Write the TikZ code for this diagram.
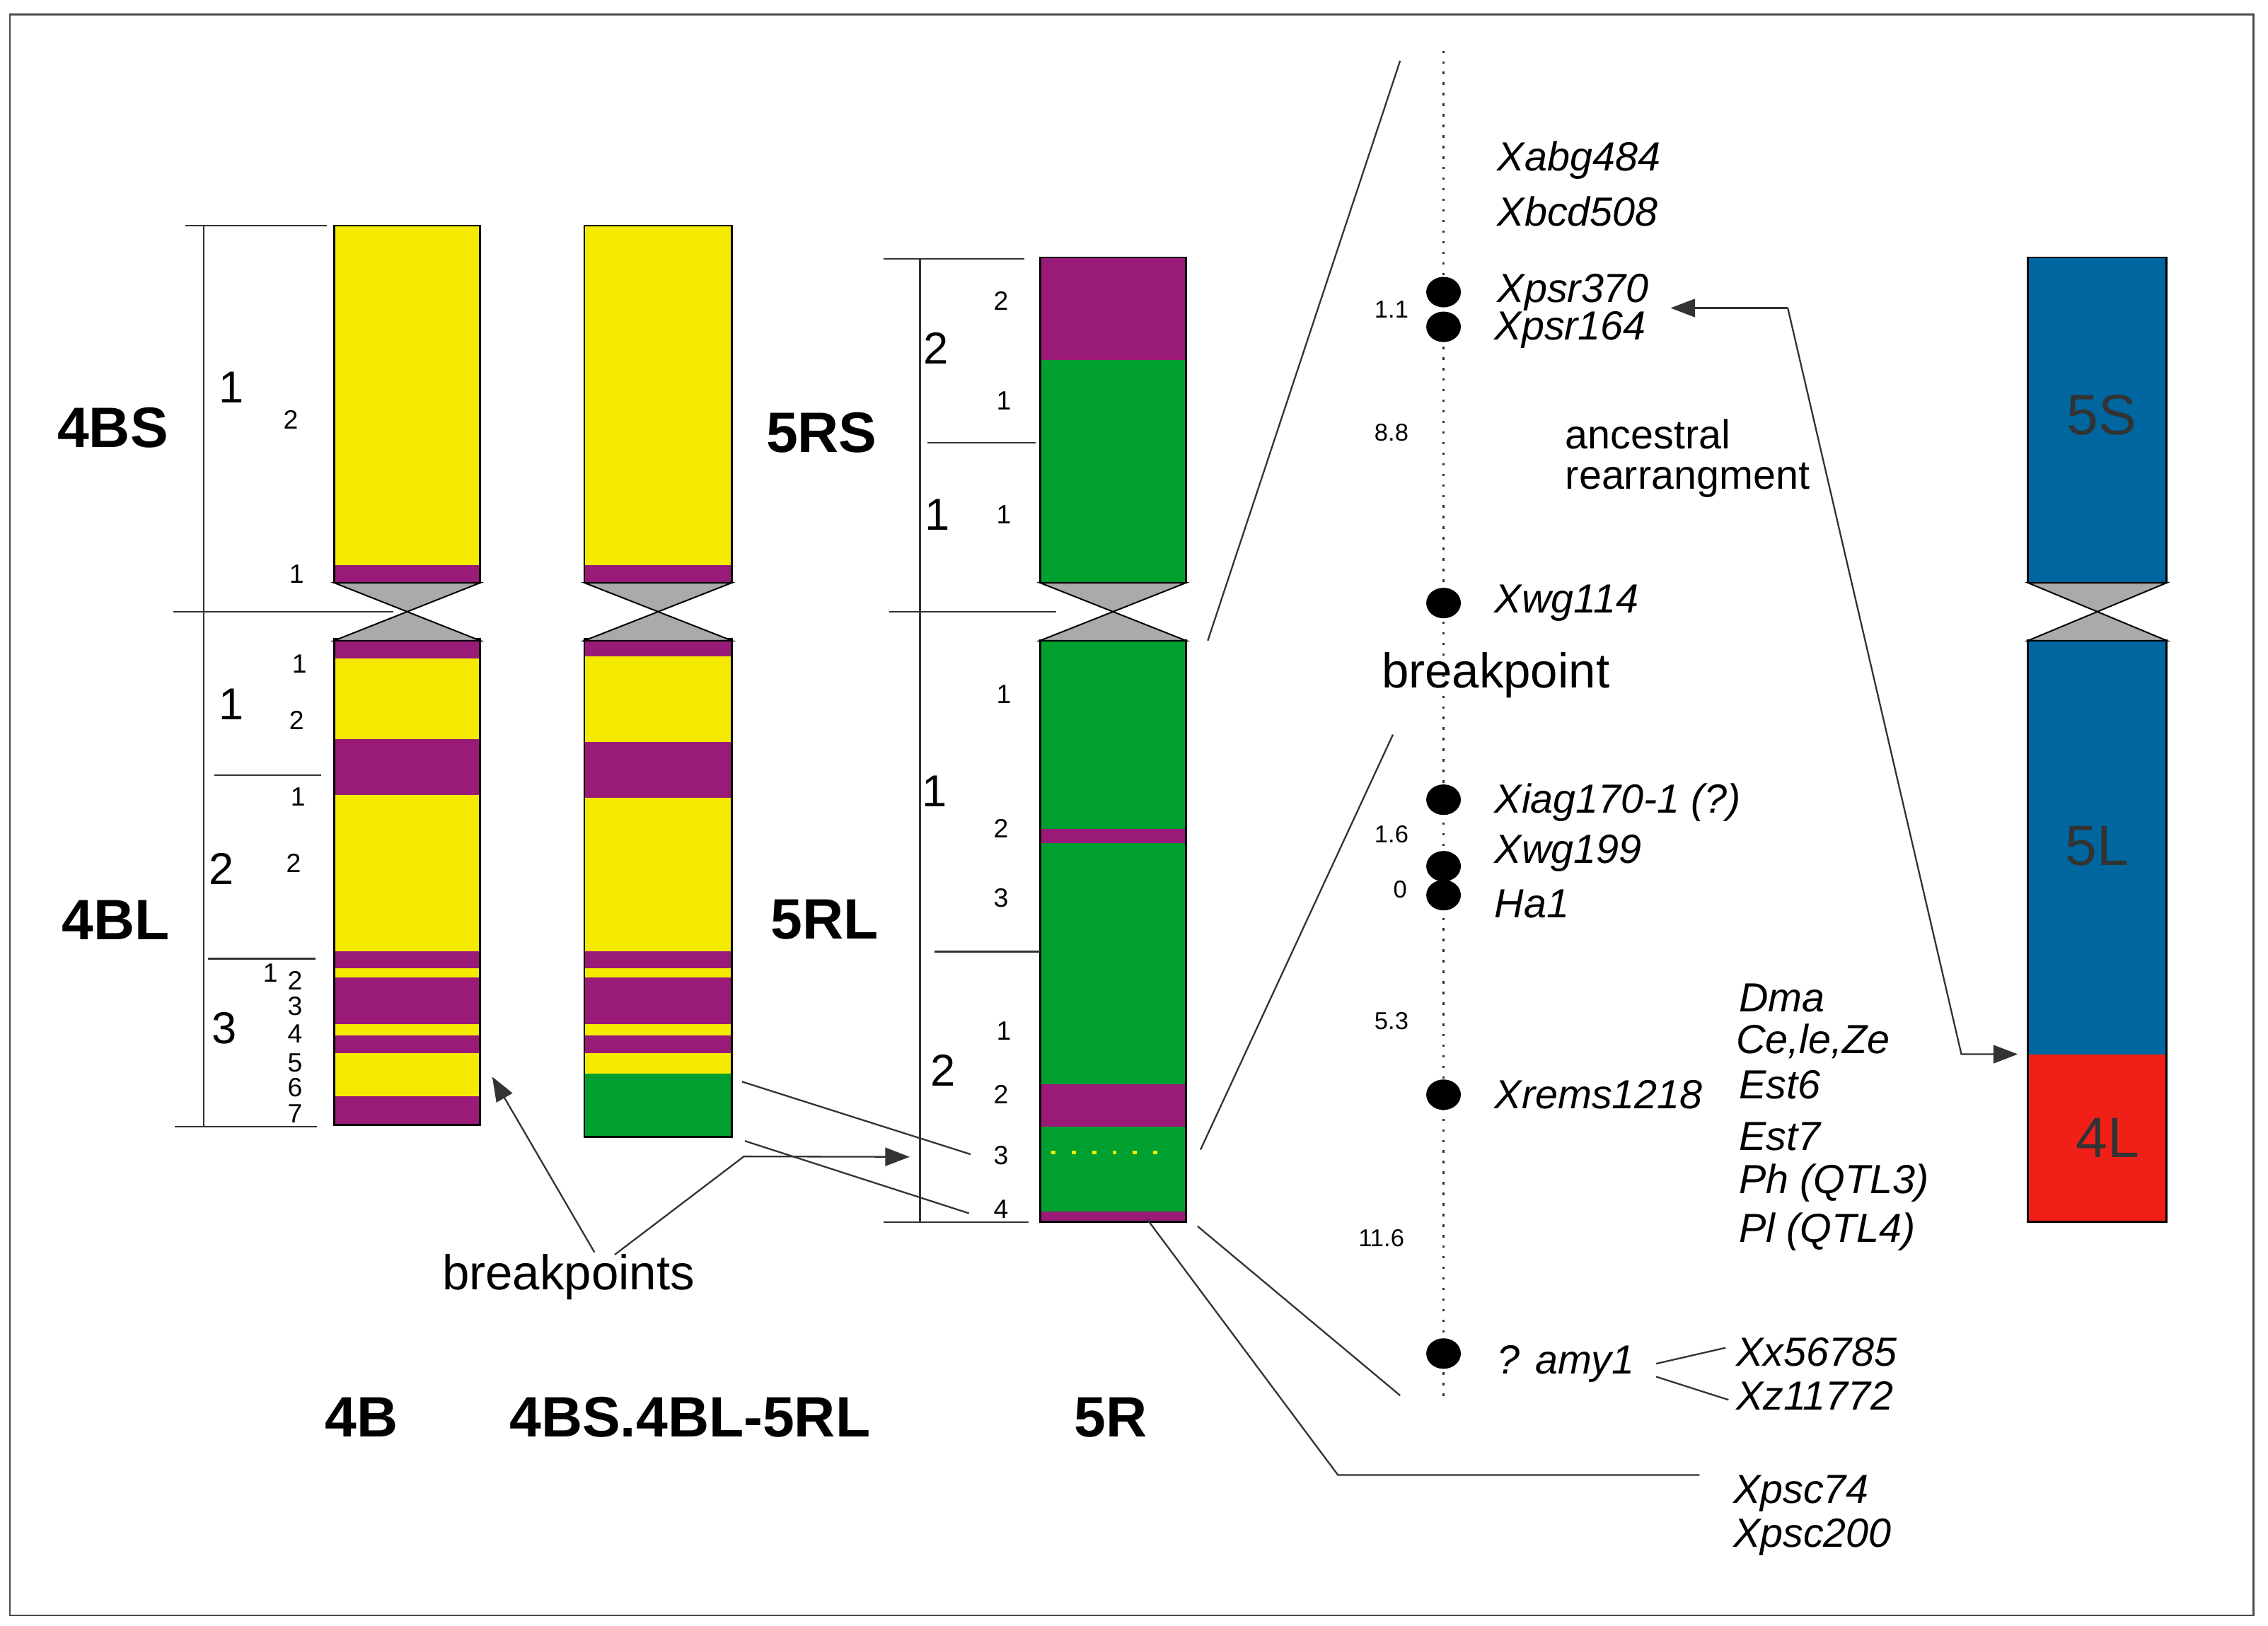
\documentclass[tikz,border=0pt]{standalone}
\usepackage{fontspec}
\setmainfont{Liberation Sans}
\usetikzlibrary{arrows.meta,shapes.geometric}
\definecolor{cy}{HTML}{F5EB00}
\definecolor{cp}{HTML}{991A77}
\definecolor{cg}{HTML}{00A030}
\definecolor{cb}{HTML}{0066A0}
\definecolor{cr}{HTML}{F02018}
\definecolor{cgr}{HTML}{AAAAAA}
\newcommand{\cband}[5]{\fill[#5] (#1,#3) rectangle (#2,#4);}
\newcommand{\cencen}[2]{\filldraw[fill=cgr,draw=black,line width=0.7pt] (#1,403)--(#2,403)--({(#1+#2)/2},423)--(#2,443)--(#1,443)--({(#1+#2)/2},423)--cycle;}
\tikzset{
 big/.style={font=\fontsize{28}{30}\selectfont\bfseries},
 bn/.style={font=\fontsize{22}{24}\selectfont},
 sn/.style={font=\fontsize{13}{14}\selectfont},
 mk/.style={font=\fontsize{20}{22}\selectfont\itshape, anchor=west, inner sep=0pt},
 lb/.style={font=\fontsize{20}{22}\selectfont},
 dist/.style={font=\fontsize{12}{13}\selectfont},
 ln/.style={line width=0.8pt, draw=black!80},
 dot/.style={ellipse, fill=black, minimum width=17, minimum height=15, inner sep=0pt},
 tip/.style={-{Triangle[length=12pt,width=9pt]}}
}
\begin{document}
\begin{tikzpicture}[x=0.025cm,y=-0.025cm]
\useasboundingbox (0,0) rectangle (1568,1124);
\draw[line width=0.8pt, black!70] (7,10) rectangle (1558,1117);
% ---- 4B
\cband{231}{332}{156}{391}{cy}\cband{231}{332}{391}{403}{cp}
\cband{231}{332}{442}{455.5}{cp}\cband{231}{332}{455.5}{511}{cy}\cband{231}{332}{511}{549.6}{cp}
\cband{231}{332}{549.6}{657.6}{cy}\cband{231}{332}{657.6}{669.6}{cp}\cband{231}{332}{669.6}{675.8}{cy}
\cband{231}{332}{675.8}{708.3}{cp}\cband{231}{332}{708.3}{715.8}{cy}\cband{231}{332}{715.8}{728}{cp}
\cband{231}{332}{728}{758.2}{cy}\cband{231}{332}{758.2}{778}{cp}
\draw[line width=1pt] (231,156) rectangle (332,403) (231,442) rectangle (332,778);
\cencen{231}{332}
% ---- 4BS.4BL-5RL
\cband{404}{506}{156}{391}{cy}\cband{404}{506}{391}{403}{cp}
\cband{404}{506}{442}{454}{cp}\cband{404}{506}{454}{513}{cy}\cband{404}{506}{513}{551.6}{cp}
\cband{404}{506}{551.6}{657.6}{cy}\cband{404}{506}{657.6}{669.6}{cp}\cband{404}{506}{669.6}{675.8}{cy}
\cband{404}{506}{675.8}{708.3}{cp}\cband{404}{506}{708.3}{715.8}{cy}\cband{404}{506}{715.8}{728}{cp}
\cband{404}{506}{728}{742.5}{cy}\cband{404}{506}{742.5}{786}{cg}
\draw[line width=1pt] (404,156) rectangle (506,403) (404,442) rectangle (506,786);
\cencen{404}{506}
% ---- 5R
\cband{719}{820}{178}{249}{cp}\cband{719}{820}{249}{403}{cg}
\cband{719}{820}{443}{573}{cg}\cband{719}{820}{573}{583}{cp}\cband{719}{820}{583}{750}{cg}
\cband{719}{820}{750}{779}{cp}\cband{719}{820}{779}{838}{cg}\cband{719}{820}{838}{845}{cp}
\draw[line width=1pt] (719,178) rectangle (820,403) (719,443) rectangle (820,845);
\cencen{719}{820}
\draw[cy, line width=2pt, dash pattern=on 2pt off 8pt] (727,797) -- (810,797);
% ---- 5S/5L
\cband{1402}{1498}{178}{403}{cb}\cband{1402}{1498}{443}{729}{cb}\cband{1402}{1498}{729}{845}{cr}
\draw[line width=1pt] (1402,178) rectangle (1498,403) (1402,443) rectangle (1498,845);
\cencen{1402}{1498}
\node[font=\fontsize{28}{30}\selectfont, text=black!80] (s5) at (1453,287) {5S};
\node[font=\fontsize{28}{30}\selectfont, text=black!80] (l5) at (1450,585) {5L};
\node[font=\fontsize{28}{30}\selectfont, text=black!80] (l4) at (1457,787) {4L};
% ---- scales
\draw[ln] (141,156)--(141,779) (128,156)--(226,156) (120,423)--(272,423) (148,536)--(222,536) (144,663)--(218,663) (121,779)--(219,779);
\draw[ln] (636,179)--(636,845) (611,179)--(708,179) (641,306)--(716,306) (615,423)--(730,423) (646,658)--(719,658) (611,845)--(711,845);
% labels 4B
\node[big] (t4bs) at (78,296) {4BS};
\node[big] (t4bl) at (80,636) {4BL};
\node[bn] at (160,268) {1}; \node[sn] at (201,290) {2}; \node[sn] at (205,397) {1};
\node[sn] at (207,459) {1}; \node[bn] at (160,487) {1}; \node[sn] at (205,498) {2};
\node[sn] at (206,551) {1}; \node[bn] at (153,601) {2}; \node[sn] at (203,597) {2};
\node[bn] at (155,711) {3}; \node[sn] at (187,673) {1}; \node[sn] at (204,678) {2};
\node[sn] at (204,696) {3}; \node[sn] at (204,715) {4}; \node[sn] at (204,735) {5};
\node[sn] at (204,752) {6}; \node[sn] at (204,770) {7};
% labels 5R
\node[big] (t5rs) at (568,299) {5RS};
\node[big] (t5rl) at (570,636) {5RL};
\node[sn] at (692,208) {2}; \node[bn] at (647,241) {2}; \node[sn] at (694,277) {1};
\node[bn] at (648,356) {1}; \node[sn] at (694,356) {1};
\node[sn] at (694,480) {1}; \node[bn] at (646,547) {1}; \node[sn] at (692,573) {2};
\node[sn] at (692,621) {3}; \node[sn] at (694,713) {1}; \node[bn] at (652,740) {2};
\node[sn] at (692,757) {2}; \node[sn] at (692,799) {3}; \node[sn] at (692,836) {4};
% bottom titles
\node[big] at (250,980) {4B};
\node[big] at (477,980) {4BS.4BL-5RL};
\node[big] at (768,980) {5R};
% breakpoints connectors
\node[font=\fontsize{24}{26}\selectfont] (bps) at (393,883) {breakpoints};
\coordinate (b1) at (411,866); \coordinate (b2) at (425,867.6);
\coordinate (a1) at (340.3,744.6); \coordinate (k1) at (514.3,799.7); \coordinate (a2) at (628.9,800);
\draw[ln, tip] (b1) -- (a1);
\draw[ln, tip] (b2) -- (k1) -- (a2);
\coordinate (p1) at (513,748); \coordinate (p2) at (671,798.2);
\coordinate (q1) at (515,789); \coordinate (q2) at (669.9,839);
\draw[ln] (p1)--(p2) (q1)--(q2);
% zoom lines
\coordinate (z1) at (968,42); \coordinate (z2) at (835,443);
\coordinate (z3) at (963,508); \coordinate (z4) at (830,795);
\coordinate (z5) at (828,848); \coordinate (z6) at (968,965);
\coordinate (z7) at (793,843); \coordinate (z8) at (925,1020); \coordinate (z9) at (1175,1020);
\draw[ln] (z1)--(z2) (z3)--(z4) (z5)--(z6) (z7)--(z8)--(z9);
% map axis
\draw[black!80, line width=1.2pt, dash pattern=on 1.2pt off 4pt] (998,35)--(998,968);
\foreach \n/\yy in {d1/202,d2/226,d3/417,d4/553,d5/599,d6/619,d7/757,d8/936}
  \node[dot] (\n) at (998,\yy) {};
\node[mk] at (1035,111) {Xabg484};
\node[mk] at (1035,146) {Xbcd508};
\node[mk] (m370) at (1035,202) {Xpsr370};
\node[mk] (m164) at (1033,228) {Xpsr164};
\node[mk] at (1033,417) {Xwg114};
\node[mk] at (1033,555) {Xiag170-1 (?)};
\node[mk] at (1033,590) {Xwg199};
\node[mk] at (1033,625) {Ha1};
\node[mk] at (1033,757) {Xrems1218};
\node[mk] (amy) at (1035,943) {? amy1};
\node[mk] (x56) at (1200,935) {Xx56785};
\node[mk] (x11) at (1200,965) {Xz11772};
\node[mk] at (1198,1033) {Xpsc74};
\node[mk] at (1198,1063) {Xpsc200};
\node[mk] at (1202,690) {Dma};
\node[mk] at (1200,720) {Ce,le,Ze};
\node[mk] at (1202,750) {Est6};
\node[mk] at (1202,786) {Est7};
\node[mk] at (1202,818) {Ph (QTL3)};
\node[mk] at (1202,852) {Pl (QTL4)};
\node[dist] at (962,214) {1.1};
\node[dist] at (962,299) {8.8};
\node[dist] at (962,577) {1.6};
\node[dist] at (968,615) {0};
\node[dist] at (962,706) {5.3};
\node[dist] at (955,856) {11.6};
\node[lb, anchor=west, align=left, inner sep=0pt] (anc) at (1082,317) {ancestral\\[-2pt]rearrangment};
\node[font=\fontsize{24}{26}\selectfont] (bpt) at (1034,467) {breakpoint};
\coordinate (y1) at (1145,943); \coordinate (y2) at (1193,932);
\coordinate (y3) at (1145,952); \coordinate (y4) at (1195,968);
\draw[ln] (y1)--(y2) (y3)--(y4);
\coordinate (r0) at (1155,213); \coordinate (r1) at (1236,213); \coordinate (r2) at (1356,729); \coordinate (r3) at (1395,729);
\draw[ln, tip] (r1)--(r0);
\draw[ln, tip] (r1)--(r2)--(r3);
\end{tikzpicture}
\end{document}
